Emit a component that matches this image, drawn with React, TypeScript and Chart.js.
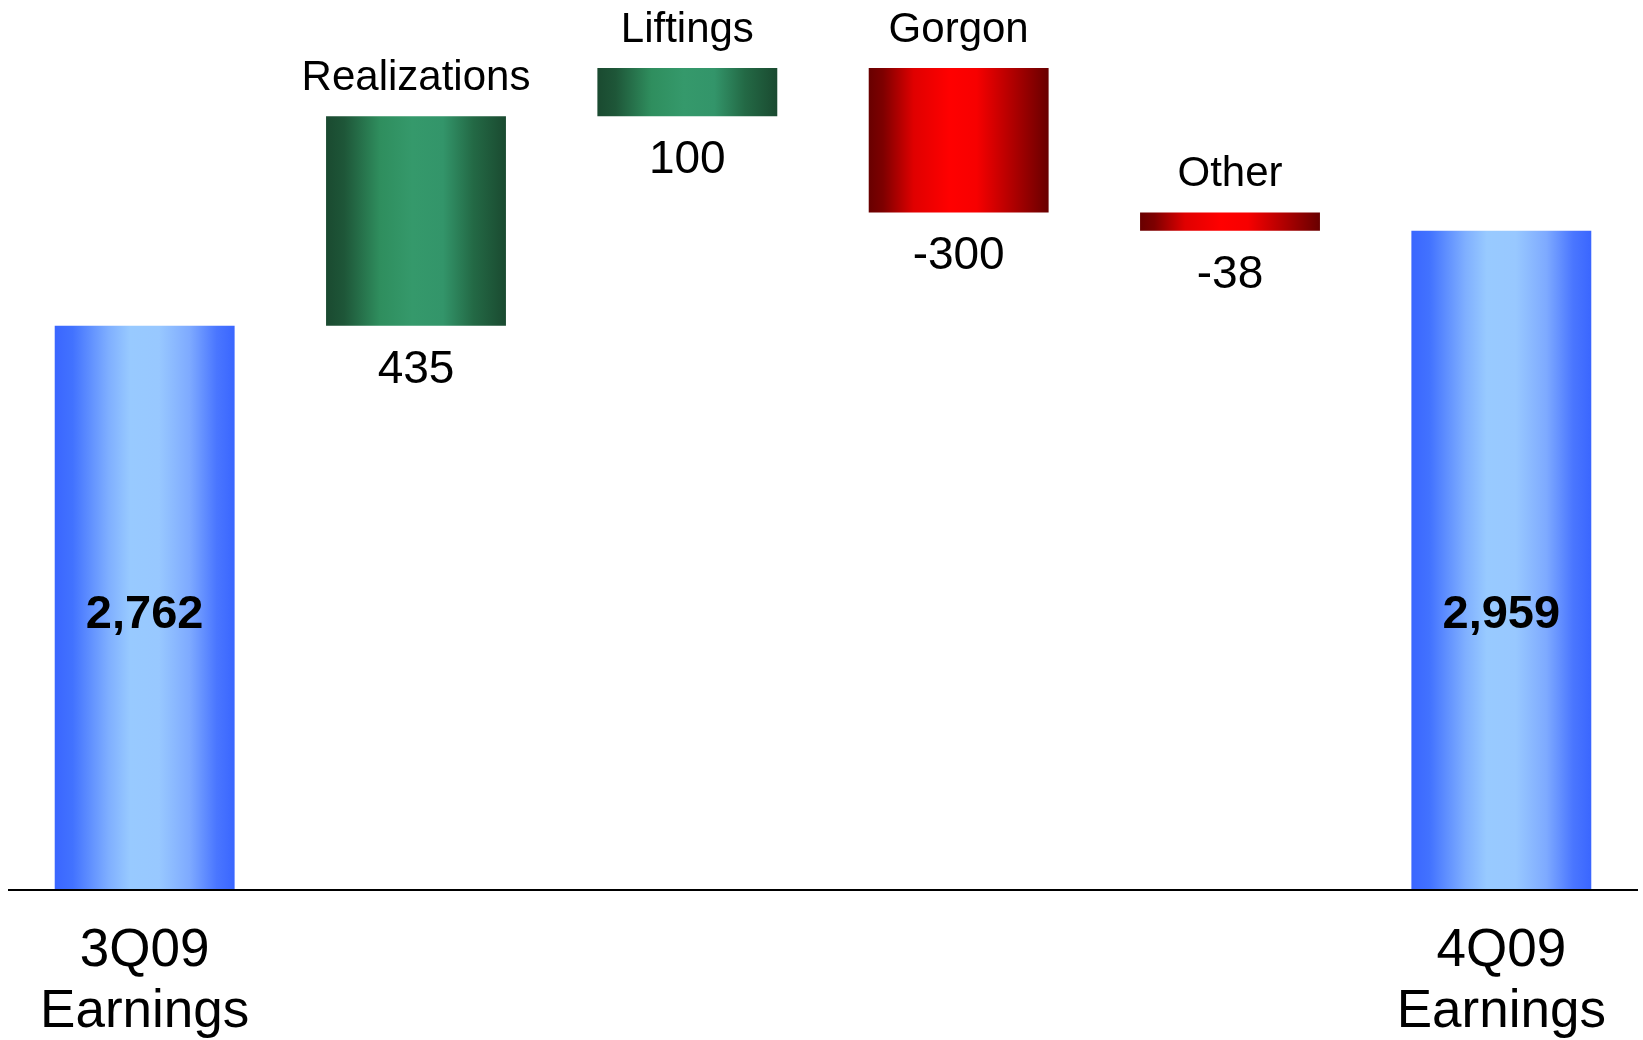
import React, { useEffect, useRef } from "react";
import { Chart, registerables } from "chart.js";

Chart.register(...registerables);

// Earnings walk, 3Q09 -> 4Q09 (millions of dollars)
const categories = ["3Q09 Earnings", "Realizations", "Liftings", "Gorgon", "Other", "4Q09 Earnings"];
const startTotal = 2762;
const changes = [435, 100, -300, -38];
const endTotal = 2959;

// Waterfall ranges: totals stand on zero, changes float from the running sum.
function buildRanges(): [number, number][] {
  const out: [number, number][] = [[0, startTotal]];
  let run = startTotal;
  for (const c of changes) {
    out.push([run, run + c]);
    run += c;
  }
  out.push([0, endTotal]);
  return out;
}
const ranges = buildRanges();
const displayValues = [startTotal, ...changes, endTotal];

const FONT = "'Liberation Sans', Arial, Helvetica, sans-serif";
const BAR_PCT = 0.663;

const blueStops: [number, string][] = [
  [0, "#3a66ff"], [0.1, "#4272ff"], [0.3, "#7fafff"], [0.42, "#98caff"],
  [0.58, "#98c8ff"], [0.75, "#7eaaff"], [0.9, "#4a76ff"], [1, "#3a66ff"],
];
const greenStops: [number, string][] = [
  [0, "#1a4a30"], [0.1, "#1e5638"], [0.3, "#2f8e5e"], [0.48, "#35996b"],
  [0.65, "#33956a"], [0.82, "#236945"], [1, "#1a4a30"],
];
const redStops: [number, string][] = [
  [0, "#680000"], [0.08, "#7e0000"], [0.25, "#e00000"], [0.45, "#ff0000"],
  [0.6, "#f70000"], [0.8, "#b00000"], [1, "#680000"],
];

function stopsFor(i: number): [number, string][] {
  if (i === 0 || i === categories.length - 1) return blueStops;
  return changes[i - 1] >= 0 ? greenStops : redStops;
}

function barFill(ctx: any) {
  const i = ctx.dataIndex;
  const chart = ctx.chart;
  const xs = chart.scales && chart.scales.x;
  const stops = i === undefined ? blueStops : stopsFor(i);
  if (i === undefined || !chart.chartArea || !xs) return stops[3][1];
  const cx = xs.getPixelForValue(i);
  const half = ((xs.width / categories.length) * BAR_PCT) / 2;
  const g = chart.ctx.createLinearGradient(cx - half, 0, cx + half, 0);
  stops.forEach(([o, c]) => g.addColorStop(o, c));
  return g;
}

const TOTAL_LABEL_LEVEL = 2160;

const waterfallLabels = {
  id: "waterfallLabels",
  afterDatasetsDraw(chart: any) {
    const { ctx } = chart;
    const meta = chart.getDatasetMeta(0);
    const ys = chart.scales.y;
    ctx.save();
    ctx.fillStyle = "#000";
    ctx.textAlign = "center";
    meta.data.forEach((bar: any, i: number) => {
      const top = Math.min(bar.y, bar.base);
      const bottom = Math.max(bar.y, bar.base);
      if (i === 0 || i === categories.length - 1) {
        ctx.font = `bold 47px ${FONT}`;
        ctx.textBaseline = "middle";
        ctx.fillText(displayValues[i].toLocaleString("en-US"), bar.x, ys.getPixelForValue(TOTAL_LABEL_LEVEL));
      } else {
        ctx.textBaseline = "alphabetic";
        ctx.font = `42px ${FONT}`;
        ctx.fillText(categories[i], bar.x, top - 26);
        ctx.font = `46px ${FONT}`;
        ctx.fillText(String(displayValues[i]), bar.x, bottom + 57);
      }
    });
    ctx.restore();
  },
};

export default function App() {
  const canvasRef = useRef<HTMLCanvasElement | null>(null);

  useEffect(() => {
    if (!canvasRef.current) return;
    const chart = new Chart(canvasRef.current, {
      type: "bar",
      data: {
        labels: categories,
        datasets: [
          {
            data: ranges as any,
            backgroundColor: barFill as any,
            borderWidth: 0,
            barPercentage: BAR_PCT,
            categoryPercentage: 1,
          },
        ],
      },
      options: {
        responsive: false,
        animation: false,
        devicePixelRatio: 1,
        layout: { padding: { left: 9, right: 6, top: 4, bottom: 0 } },
        plugins: {
          legend: { display: false },
          tooltip: { enabled: false },
        },
        scales: {
          x: {
            grid: { display: false, drawTicks: false },
            border: { display: true, color: "#000", width: 2, z: 1 } as any,
            ticks: {
              autoSkip: false,
              maxRotation: 0,
              minRotation: 0,
              padding: 31,
              color: "#000",
              font: { family: FONT, size: 53, lineHeight: 1.15 },
              callback: (_v: any, i: number) =>
                i === 0 || i === categories.length - 1 ? categories[i].split(" ") : "",
            },
            afterFit: (scale: any) => {
              scale.height = 150;
            },
          },
          y: {
            display: false,
            min: 1590,
            max: 3430,
          },
        },
      },
      plugins: [waterfallLabels],
    });
    return () => chart.destroy();
  }, []);

  return (
    <div style={{ position: "absolute", left: 0, top: 0, width: 1643, height: 1040, background: "#fff" }}>
      <canvas ref={canvasRef} width={1643} height={1040} />
    </div>
  );
}
